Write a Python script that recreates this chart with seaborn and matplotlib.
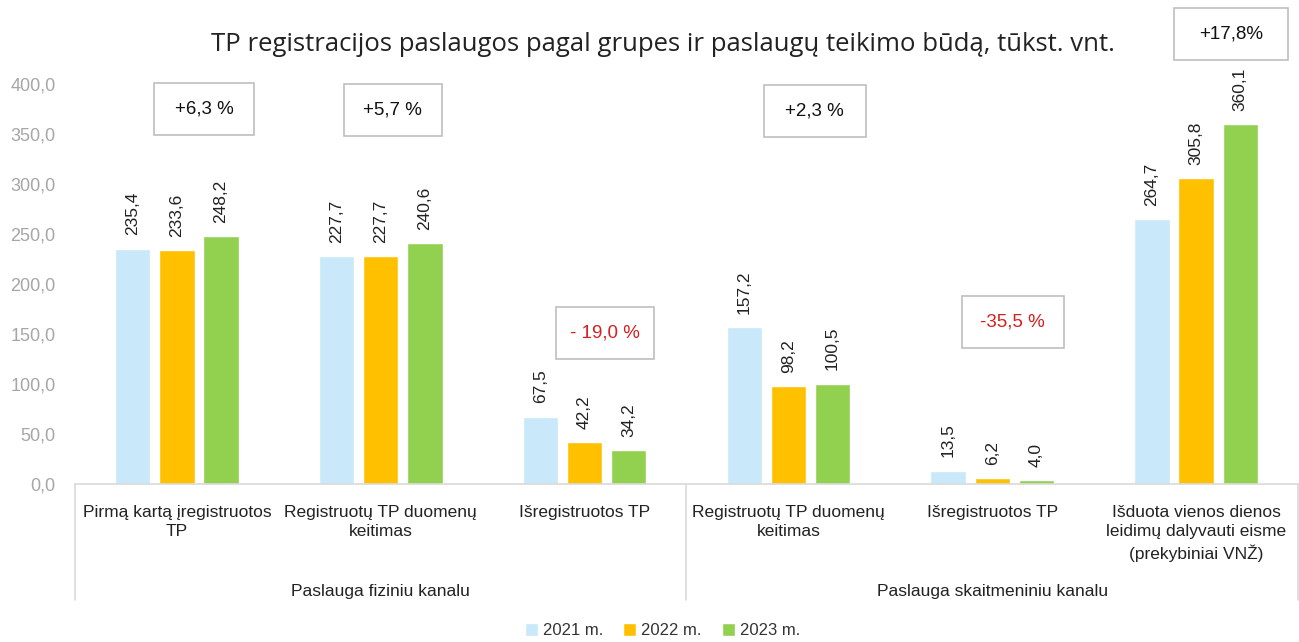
import matplotlib
matplotlib.use("Agg")
import matplotlib.pyplot as plt
from matplotlib.patches import Rectangle
from matplotlib.ticker import FuncFormatter
import seaborn as sns
import pandas as pd

# --- data ---
years = ["2021 m.", "2022 m.", "2023 m."]
categories = [
    "Pirmą kartą įregistruotos\nTP",
    "Registruotų TP duomenų\nkeitimas",
    "Išregistruotos TP",
    "Registruotų TP duomenų\nkeitimas",
    "Išregistruotos TP",
    "Išduota vienos dienos\nleidimų dalyvauti eisme\n(prekybiniai VNŽ)",
]
groups = ["Paslauga fiziniu kanalu", "Paslauga skaitmeniniu kanalu"]
values_2021 = [235.4, 227.7, 67.5, 157.2, 13.5, 264.7]
values_2022 = [233.6, 227.7, 42.2, 98.2, 6.2, 305.8]
values_2023 = [248.2, 240.6, 34.2, 100.5, 4.0, 360.1]
changes = ["+6,3 %", "+5,7 %", "- 19,0 %", "+2,3 %", "-35,5 %", "+17,8%"]
change_neg = [False, False, True, False, True, False]

colors = ["#C9E8FA", "#FFC000", "#92D050"]

rows = []
for year, vals in zip(years, [values_2021, values_2022, values_2023]):
    for i, v in enumerate(vals):
        rows.append({"cat": str(i), "year": year, "value": v})
df = pd.DataFrame(rows)

sns.set_style("white")
plt.rcParams["font.family"] = ["Liberation Sans", "DejaVu Sans"]
label_font = ["Liberation Sans", "DejaVu Sans"]

fig = plt.figure(figsize=(12.99, 6.42), dpi=100)
ax = fig.add_axes([0.0577, 0.246, 0.9415, 0.623])

sns.barplot(data=df, x="cat", y="value", hue="year", order=[str(i) for i in range(6)],
            palette=colors, width=0.65, gap=0.2, saturation=1, ax=ax, legend=True)

for cont in ax.containers:
    ax.bar_label(cont, labels=[f"{b.get_height():.1f}".replace(".", ",") for b in cont],
                 rotation=90, padding=9.5, fontsize=12.5, color="#222222")

ax.set_ylim(0, 400)
ax.set_xlim(-0.5, 5.5)
ax.set_yticks(range(0, 401, 50))
ax.yaxis.set_major_formatter(FuncFormatter(lambda v, p: f"{v:.1f}".replace(".", ",")))
ax.tick_params(axis="y", length=0, labelsize=13, labelcolor="#a6a6a6", pad=14)
ax.set_xticks(range(6))
ax.set_xticklabels(categories, fontsize=12.5, color="#222222", family=label_font,
                   linespacing=1.35)
ax.tick_params(axis="x", length=0, pad=15)
ax.set_xlabel("")
ax.set_ylabel("")
for s in ["top", "right", "left"]:
    ax.spines[s].set_visible(False)
ax.spines["bottom"].set_color("#d9d9d9")
ax.spines["bottom"].set_linewidth(1.2)

# group separators and group labels
for xs in [-0.5, 2.5, 5.5]:
    ax.plot([xs, xs], [0, -116], color="#d9d9d9", lw=1.2, clip_on=False)
ax.text(1, -107, groups[0], ha="center", va="center", fontsize=12.5,
        color="#222222", family=label_font, clip_on=False)
ax.text(4, -107, groups[1], ha="center", va="center", fontsize=12.5,
        color="#222222", family=label_font, clip_on=False)

# percentage-change boxes (centre x in category units, centre y in data units)
box_x = [0.133, 1.06, 2.10, 3.13, 4.10, 5.17]
box_y = [375, 374, 151, 373, 162, 450]
box_w = [0.49, 0.48, 0.48, 0.50, 0.50, 0.56]
for lab, neg, bx, by, bw in zip(changes, change_neg, box_x, box_y, box_w):
    ax.add_patch(Rectangle((bx - bw / 2, by - 26), bw, 52, fill=True, facecolor="white",
                           edgecolor="#bfbfbf", lw=1.2, clip_on=False, zorder=3))
    ax.text(bx, by, lab, ha="center", va="center", fontsize=13.5,
            color="#d42020" if neg else "#111111", zorder=4, clip_on=False)

fig.text(0.51, 0.93, "TP registracijos paslaugos pagal grupes ir paslaugų teikimo būdą, tūkst. vnt.",
         ha="center", va="center", fontsize=18.5, color="#222222",
         family=["Open Sans", "DejaVu Sans"])

handles, labels = ax.get_legend_handles_labels()
ax.get_legend().remove()
fig.legend(handles, labels, loc="center", bbox_to_anchor=(0.51, 0.018), ncol=3,
           frameon=False, fontsize=12, handlelength=0.8, handleheight=0.8,
           handletextpad=0.3, columnspacing=1.2, labelcolor="#333333")

fig.savefig("out.png", dpi=100)
